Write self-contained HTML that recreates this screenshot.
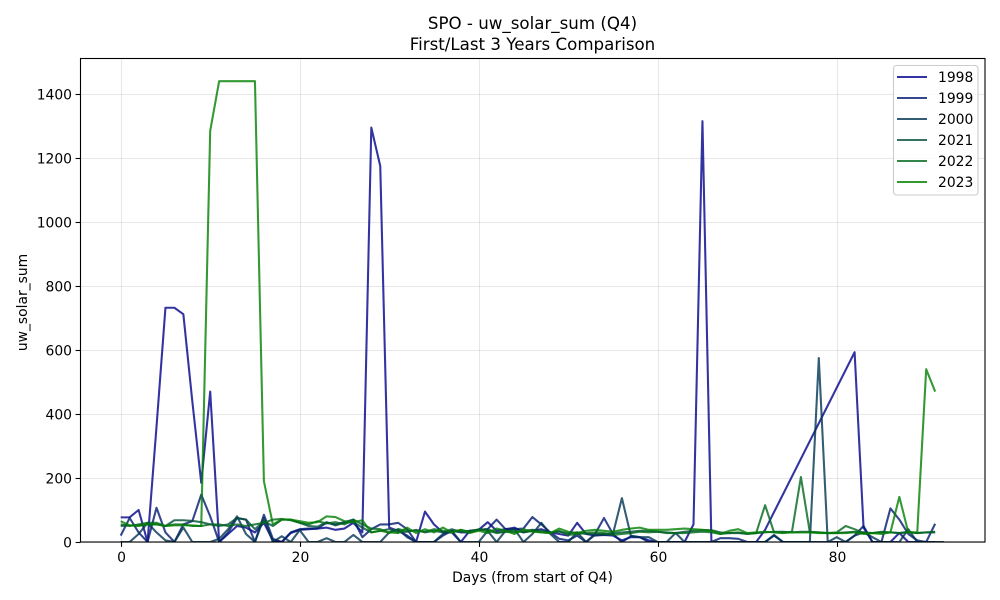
<!DOCTYPE html>
<html lang="en">
<head>
<meta charset="utf-8">
<title>SPO - uw_solar_sum (Q4)</title>
<style>
html,body{margin:0;padding:0;background:#fff;}
svg{display:block;font-family:"DejaVu Sans","Liberation Sans",sans-serif;fill:#000;}
</style>
</head>
<body>
<svg id="chart" xmlns="http://www.w3.org/2000/svg" width="1000" height="600" viewBox="0 0 1000 600">
  <defs>
    <clipPath id="plot-clip"><rect x="80.5" y="58.5" width="904.5" height="483.5"></rect></clipPath>
  </defs>
  <text x="532.5" y="29" font-size="16.67" text-anchor="middle">SPO - uw_solar_sum (Q4)</text>
  <text x="532.5" y="50" font-size="16.67" text-anchor="middle">First/Last 3 Years Comparison</text>
  <text x="532.5" y="582" font-size="13.89" text-anchor="middle">Days (from start of Q4)</text>
  <text x="0" y="0" font-size="13.89" text-anchor="middle" transform="translate(27,302.5) rotate(-90)">uw_solar_sum</text>
  <g id="grid"></g>
  <g id="series" clip-path="url(#plot-clip)"></g>
  <rect x="80.5" y="58.5" width="904.5" height="483.5" fill="none" stroke="#000" stroke-width="1.1"></rect>
  <g id="ticks"></g>
  <g id="legend">
    <rect x="893.5" y="65.5" width="84.5" height="129.5" rx="3" fill="#fff" fill-opacity="0.8" stroke="#ccc" stroke-width="1.1"></rect>
  </g>
</svg>
<script>
const xTicks = [0, 20, 40, 60, 80];
const yTicks = [0, 200, 400, 600, 800, 1000, 1200, 1400];
const seriesNames = ["1998", "1999", "2000", "2021", "2022", "2023"];
const seriesColors = ["#00008b", "#001a6f", "#003353", "#004d38", "#00661c", "#008000"];
const values1998 = [77,77,100,0,360,732,732,712,440,185,470,0,25,50,45,30,60,5,0,28,38,40,42,45,38,42,60,30,1295,1175,45,35,20,0,95,55,30,30,0,35,38,62,35,40,45,30,35,40,30,25,20,60,25,20,22,20,5,15,15,5,0,0,0,0,55,1315,0,0,0,0,0,0,38,null,null,null,null,null,null,null,null,null,593,45,0,0,0,28,0,0,0,0];
const values1999 = [20,75,30,0,107,30,0,55,65,148,80,0,30,75,70,0,85,10,0,30,40,42,42,60,55,62,70,15,40,55,55,60,40,0,0,0,20,35,30,30,38,40,70,40,40,42,78,55,30,10,5,20,0,25,75,25,0,18,15,0,0,0,0,0,0,0,0,12,12,10,0,0,0,20,0,0,0,0,0,0,0,0,20,50,0,0,105,70,25,5,0,57];
const values2000 = [0,0,25,60,30,5,0,45,0,0,0,10,40,80,25,0,75,0,18,0,37,0,0,12,0,0,22,0,0,0,30,40,15,0,0,0,25,35,0,0,0,35,0,35,40,0,25,60,25,0,0,30,0,22,22,25,137,20,15,15,0,0,28,0,0,0,0,0,0,0,0,0,0,22,0,0,0,0,575,0,15,0,20,30,15,0,0,0,40,0,0,0,0];
const values2021 = [50,52,52,55,55,50,68,68,66,62,55,50,55,75,70,40,65,50,70,70,60,50,48,62,52,60,62,45,30,35,40,30,32,38,30,35,30,40,32,35,38,40,30,32,30,35,38,35,30,32,28,30,25,25,25,28,30,32,35,35,32,30,28,32,35,37,37,30,28,28,26,28,30,32,32,30,32,32,30,28,28,30,32,30,28,30,30,28,30,28,30,30];
const values2022 = [55,50,55,60,60,50,55,55,50,50,55,55,50,55,50,55,60,70,72,68,60,55,65,58,62,55,70,55,42,40,28,40,35,35,32,40,35,30,38,32,40,35,28,32,35,30,35,30,28,35,22,25,28,30,28,22,25,28,32,30,32,28,28,28,30,32,30,25,28,30,25,28,115,30,30,32,203,30,30,28,30,50,40,28,28,32,30,28,32,28,30,32];
const values2023 = [65,52,50,55,55,50,52,52,52,50,1285,1440,1440,1440,1440,1440,190,55,70,70,65,60,62,80,78,65,62,68,30,35,30,28,45,28,40,30,45,30,38,28,35,28,42,35,25,40,32,30,28,42,32,28,35,38,35,32,38,42,45,38,38,38,40,42,40,38,35,25,35,40,28,30,32,30,28,30,30,30,28,28,28,28,30,25,28,25,30,141,30,30,540,470];
const allSeries = [values1998, values1999, values2000, values2021, values2022, values2023];

const SVG_NS = "http://www.w3.org/2000/svg";
const PLOT_LEFT = 80.5, PLOT_RIGHT = 985, PLOT_TOP = 58.5, PLOT_BOTTOM = 542;
function xScale(day) { return 120.7 + day * 8.95; }
function yScale(v) { return 542 - v * 0.32; }
function make(tag, attrs) {
  const el = document.createElementNS(SVG_NS, tag);
  for (const k in attrs) el.setAttribute(k, attrs[k]);
  return el;
}
const gridG = document.getElementById("grid");
const ticksG = document.getElementById("ticks");
const seriesG = document.getElementById("series");
const legendG = document.getElementById("legend");

xTicks.forEach(function (t) {
  const x = Math.round(xScale(t)) + 0.5;
  const g = make("line", {x1: x, x2: x, y1: PLOT_TOP, y2: PLOT_BOTTOM, stroke: "#b0b0b0", "stroke-opacity": 0.3, "stroke-width": 1.1});
  
  
  gridG.appendChild(g);
  const m = make("line", {x1: x, x2: x, y1: PLOT_BOTTOM, y2: PLOT_BOTTOM + 4.9, stroke: "#000", "stroke-width": 1.1});
  
  
  ticksG.appendChild(m);
  const l = make("text", {x: x, y: 562, "font-size": 13.89, "text-anchor": "middle"});
  
  
  l.textContent = t;
  ticksG.appendChild(l);
});
yTicks.forEach(function (t) {
  const y = Math.round(yScale(t)) + 0.5;
  const g = make("line", {x1: PLOT_LEFT, x2: PLOT_RIGHT, y1: y, y2: y, stroke: "#b0b0b0", "stroke-opacity": 0.3, "stroke-width": 1.1});
  
  
  gridG.appendChild(g);
  const m = make("line", {x1: PLOT_LEFT - 4.9, x2: PLOT_LEFT, y1: y, y2: y, stroke: "#000", "stroke-width": 1.1});
  
  
  ticksG.appendChild(m);
  const l = make("text", {x: 72, y: y + 5, "font-size": 13.89, "text-anchor": "end"});
  
  
  l.textContent = t;
  ticksG.appendChild(l);
});
allSeries.forEach(function (vals, i) {
  const pts = [];
  vals.forEach(function (v, d) {
    if (v !== null) pts.push(xScale(d).toFixed(2) + "," + yScale(v).toFixed(2));
  });
  const p = make("polyline", {points: pts.join(" "), fill: "none", stroke: seriesColors[i], "stroke-opacity": 0.8, "stroke-width": 2.08, "stroke-linejoin": "round"});
  
  
  seriesG.appendChild(p);

  const y = 77 + i * 21;
  const h = make("line", {x1: 897, x2: 927, y1: y, y2: y, stroke: seriesColors[i], "stroke-opacity": 0.8, "stroke-width": 2.08});
  
  
  legendG.appendChild(h);
  const t = make("text", {x: 938, y: y + 5, "font-size": 13.89});
  
  
  t.textContent = seriesNames[i];
  legendG.appendChild(t);
});
</script>
</body>
</html>
